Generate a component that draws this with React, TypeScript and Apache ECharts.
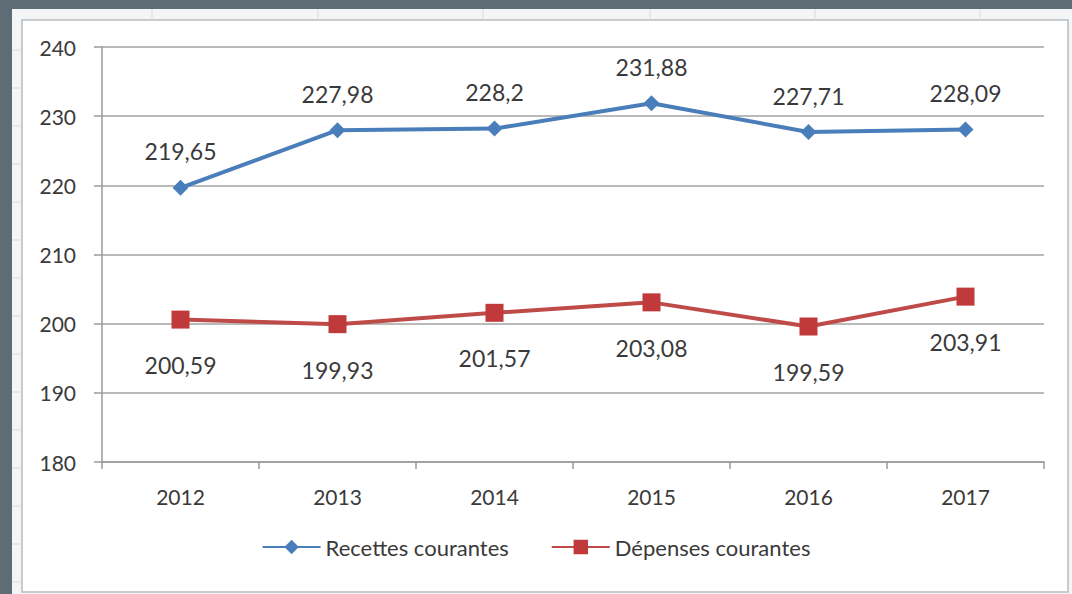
import React, { useEffect, useRef } from "react";
import * as echarts from "echarts";

const categories = ["2012", "2013", "2014", "2015", "2016", "2017"];
const recettes = [219.65, 227.98, 228.2, 231.88, 227.71, 228.09];
const depenses = [200.59, 199.93, 201.57, 203.08, 199.59, 203.91];
const seriesNames = ["Recettes courantes", "Dépenses courantes"];

const fmt = (v: number) => String(v).replace(".", ",");

export default function App() {
  const ref = useRef<HTMLDivElement>(null);
  useEffect(() => {
    const chart = echarts.init(ref.current!, null, { renderer: "svg" });
    const font = "Lato, 'Open Sans', sans-serif";
    const txt = "#3a3a3a";
    const sheetLines: any[] = [];
    [152, 318, 483, 650, 815, 980].forEach((x) => {
      sheetLines.push({ type: "line", shape: { x1: x, y1: 9, x2: x, y2: 20 }, style: { stroke: "#d8dcdf", lineWidth: 1 }, silent: true });
    });
    for (let y = 50; y < 594; y += 38) {
      sheetLines.push({ type: "line", shape: { x1: 12, y1: y, x2: 22, y2: y }, style: { stroke: "#d8dcdf", lineWidth: 1 }, silent: true });
    }
    chart.setOption({
      animation: false,
      backgroundColor: "#5e6c76",
      textStyle: { fontFamily: font },
      graphic: [
        { type: "rect", shape: { x: 12, y: 9, width: 1060, height: 585 }, style: { fill: "#f3f5f6" }, silent: true, z: -10 },
        ...sheetLines,
        { type: "rect", shape: { x: 22, y: 20, width: 1046, height: 572 }, style: { fill: "#ffffff", stroke: "#b9bcbe", lineWidth: 1.5 }, silent: true, z: -5 },
      ],
      grid: { left: 102, right: 28, top: 47, bottom: 132 },
      legend: {
        bottom: 31,
        left: "center",
        itemWidth: 58,
        itemHeight: 18,
        itemGap: 42,
        textStyle: { fontSize: 22, color: txt, fontFamily: font },
        data: seriesNames,
      },
      xAxis: {
        type: "category",
        data: categories,
        boundaryGap: true,
        axisLine: { lineStyle: { color: "#9a9a9a", width: 1.5 } },
        axisTick: { show: true, length: 7, lineStyle: { color: "#9a9a9a", width: 1.5 } },
        axisLabel: { fontSize: 21, color: txt, margin: 24, fontFamily: font },
      },
      yAxis: {
        type: "value",
        min: 180,
        max: 240,
        interval: 10,
        axisLine: { show: true, lineStyle: { color: "#9a9a9a", width: 1.5 } },
        axisTick: { show: true, length: 8, lineStyle: { color: "#9a9a9a", width: 1.5 } },
        axisLabel: { fontSize: 21, color: txt, margin: 26, fontFamily: font },
        splitLine: { lineStyle: { color: "#a3a3a3", width: 1.5 } },
      },
      series: [
        {
          name: seriesNames[0],
          type: "line",
          data: recettes,
          symbol: "diamond",
          symbolSize: 16,
          lineStyle: { color: "#4a7ebb", width: 4 },
          itemStyle: { color: "#4a7ebb" },
          label: {
            show: true,
            position: "top",
            distance: 17,
            fontSize: 23,
            color: txt,
            fontFamily: font,
            formatter: (p: any) => fmt(p.value),
          },
        },
        {
          name: seriesNames[1],
          type: "line",
          data: depenses,
          symbol: "rect",
          symbolSize: 18,
          lineStyle: { color: "#be4b48", width: 4 },
          itemStyle: { color: "#c0393b" },
          label: {
            show: true,
            position: "bottom",
            distance: 25,
            fontSize: 23,
            color: txt,
            fontFamily: font,
            formatter: (p: any) => fmt(p.value),
          },
        },
      ],
    });
    return () => chart.dispose();
  }, []);
  return <div ref={ref} style={{ position: "fixed", left: 0, top: 0, width: 1072, height: 594 }} />;
}
